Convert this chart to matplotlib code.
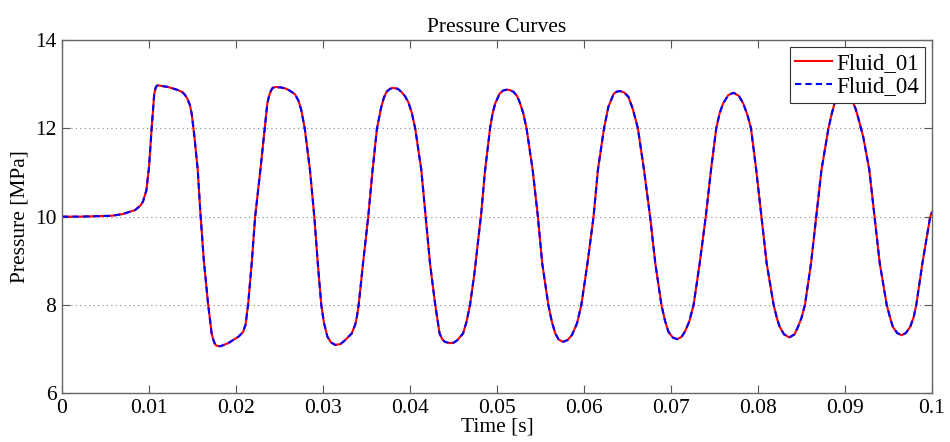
import matplotlib
matplotlib.use("Agg")
import matplotlib.pyplot as plt

# valores (tempo em s, pressão em MPa)
time_s = [
    0.0000, 0.0020, 0.0040, 0.0057, 0.0070, 0.0084, 0.0090, 0.0093, 0.0097, 0.0100,
    0.0103, 0.0106, 0.0108, 0.0110, 0.0122, 0.0132, 0.0138, 0.0141, 0.0144, 0.0147,
    0.0149, 0.0152, 0.0156, 0.0159, 0.0163, 0.0168, 0.0172, 0.0174, 0.0176, 0.0178,
    0.0182, 0.0191, 0.0203, 0.0208, 0.0211, 0.0214, 0.0218, 0.0222, 0.0228, 0.0233,
    0.0236, 0.0238, 0.0240, 0.0242, 0.0245, 0.0252, 0.0258, 0.0264, 0.0268, 0.0272,
    0.0275, 0.0279, 0.0285, 0.0290, 0.0294, 0.0298, 0.0301, 0.0305, 0.0309, 0.0314,
    0.0320, 0.0325, 0.0333, 0.0337, 0.0339, 0.0341, 0.0346, 0.0352, 0.0357, 0.0362,
    0.0367, 0.0370, 0.0373, 0.0377, 0.0381, 0.0386, 0.0390, 0.0394, 0.0398, 0.0402,
    0.0406, 0.0413, 0.0418, 0.0423, 0.0429, 0.0432, 0.0434, 0.0437, 0.0440, 0.0446,
    0.0450, 0.0454, 0.0461, 0.0465, 0.0469, 0.0474, 0.0478, 0.0482, 0.0486, 0.0492,
    0.0495, 0.0498, 0.0503, 0.0507, 0.0511, 0.0515, 0.0519, 0.0523, 0.0526, 0.0530,
    0.0534, 0.0541, 0.0547, 0.0552, 0.0559, 0.0563, 0.0567, 0.0571, 0.0576, 0.0581,
    0.0586, 0.0592, 0.0597, 0.0604, 0.0611, 0.0616, 0.0623, 0.0628, 0.0634, 0.0637,
    0.0641, 0.0646, 0.0651, 0.0656, 0.0662, 0.0669, 0.0676, 0.0682, 0.0689, 0.0693,
    0.0697, 0.0702, 0.0707, 0.0712, 0.0716, 0.0721, 0.0726, 0.0733, 0.0740, 0.0746,
    0.0752, 0.0756, 0.0760, 0.0766, 0.0772, 0.0778, 0.0783, 0.0788, 0.0792, 0.0798,
    0.0804, 0.0810, 0.0818, 0.0822, 0.0825, 0.0830, 0.0836, 0.0842, 0.0846, 0.0850,
    0.0854, 0.0861, 0.0867, 0.0873, 0.0881, 0.0885, 0.0888, 0.0892, 0.0896, 0.0903,
    0.0908, 0.0912, 0.0915, 0.0921, 0.0928, 0.0934, 0.0940, 0.0948, 0.0952, 0.0955,
    0.0960, 0.0965, 0.0970, 0.0975, 0.0979, 0.0982, 0.0989, 0.0998, 0.1000,
]
p_fluid01 = [
    10.00, 10.00, 10.01, 10.02, 10.06, 10.15, 10.25, 10.34, 10.60, 11.13,
    12.00, 12.79, 12.95, 12.98, 12.94, 12.88, 12.83, 12.77, 12.68, 12.53,
    12.34, 11.85, 11.06, 10.10, 9.00, 8.00, 7.35, 7.20, 7.10, 7.07,
    7.06, 7.13, 7.28, 7.38, 7.55, 8.03, 8.94, 10.00, 11.06, 12.00,
    12.57, 12.74, 12.85, 12.92, 12.94, 12.93, 12.90, 12.83, 12.77, 12.62,
    12.42, 12.00, 11.06, 10.00, 8.94, 8.00, 7.60, 7.28, 7.15, 7.09,
    7.11, 7.19, 7.35, 7.55, 7.73, 8.00, 8.94, 10.00, 11.06, 12.00,
    12.49, 12.70, 12.83, 12.90, 12.92, 12.90, 12.83, 12.74, 12.60, 12.36,
    12.00, 11.06, 10.00, 8.94, 8.00, 7.60, 7.35, 7.22, 7.16, 7.13,
    7.14, 7.19, 7.35, 7.62, 8.00, 8.70, 9.40, 10.10, 11.00, 12.00,
    12.35, 12.57, 12.79, 12.86, 12.88, 12.87, 12.83, 12.74, 12.60, 12.36,
    12.00, 11.06, 10.00, 8.94, 8.00, 7.62, 7.35, 7.21, 7.16, 7.20,
    7.31, 7.58, 8.00, 8.94, 10.00, 11.06, 12.00, 12.49, 12.78, 12.83,
    12.85, 12.82, 12.72, 12.45, 12.00, 11.06, 10.00, 8.94, 8.00, 7.65,
    7.39, 7.26, 7.22, 7.27, 7.39, 7.62, 8.00, 8.94, 10.00, 11.06,
    12.00, 12.35, 12.57, 12.76, 12.81, 12.74, 12.57, 12.30, 12.00, 11.06,
    10.00, 8.94, 8.00, 7.68, 7.50, 7.33, 7.26, 7.33, 7.50, 7.70,
    8.00, 8.94, 10.00, 11.06, 12.00, 12.35, 12.57, 12.70, 12.74, 12.76,
    12.64, 12.46, 12.26, 11.81, 11.06, 10.00, 8.94, 8.00, 7.70, 7.50,
    7.36, 7.31, 7.36, 7.50, 7.72, 8.00, 8.94, 10.00, 10.10,
]
# as duas curvas praticamente coincidem
p_fluid04 = list(p_fluid01)

labels = ["Fluid_01", "Fluid_04"]
x_ticks = [0, 0.01, 0.02, 0.03, 0.04, 0.05, 0.06, 0.07, 0.08, 0.09, 0.1]
x_ticklabels = ["0", "0.01", "0.02", "0.03", "0.04", "0.05", "0.06", "0.07", "0.08", "0.09", "0.1"]
y_ticks = [6, 8, 10, 12, 14]

plt.rcParams["font.family"] = ["Liberation Serif", "DejaVu Serif"]

fig = plt.figure(figsize=(9.5, 4.42), dpi=100)
ax = fig.add_axes([0.0653, 0.1109, 0.9157, 0.7979])

ax.plot(time_s, p_fluid01, color="red", linewidth=1.5, label=labels[0])
ax.plot(time_s, p_fluid04, color="blue", linewidth=1.5, linestyle=(0, (3, 2)), label=labels[1])

ax.set_xlim(0, 0.1)
ax.set_ylim(6, 14)
ax.set_xticks(x_ticks)
ax.set_xticklabels(x_ticklabels)
ax.set_yticks(y_ticks)
ax.grid(axis="y", linestyle=(0, (1, 3)), color="#808080", linewidth=0.8)
ax.tick_params(direction="in", length=6, width=0.8, top=True, right=True,
               labelsize=15.5, color="#555555", pad=4)
for s in ax.spines.values():
    s.set_color("#666666")
    s.set_linewidth(1.0)

ax.set_title("Pressure Curves", fontsize=15.5, pad=6)
ax.set_xlabel("Time [s]", fontsize=15.5, labelpad=0)
ax.set_ylabel("Pressure [MPa]", fontsize=15.5, labelpad=4)

leg = ax.legend(loc="upper right", fontsize=16.5, fancybox=False, framealpha=1,
                edgecolor="#333333", handlelength=1.6, handletextpad=0.2,
                borderpad=0.25, labelspacing=0.1, borderaxespad=0.3)
leg.get_frame().set_linewidth(0.8)

fig.savefig("out.png", dpi=100)
